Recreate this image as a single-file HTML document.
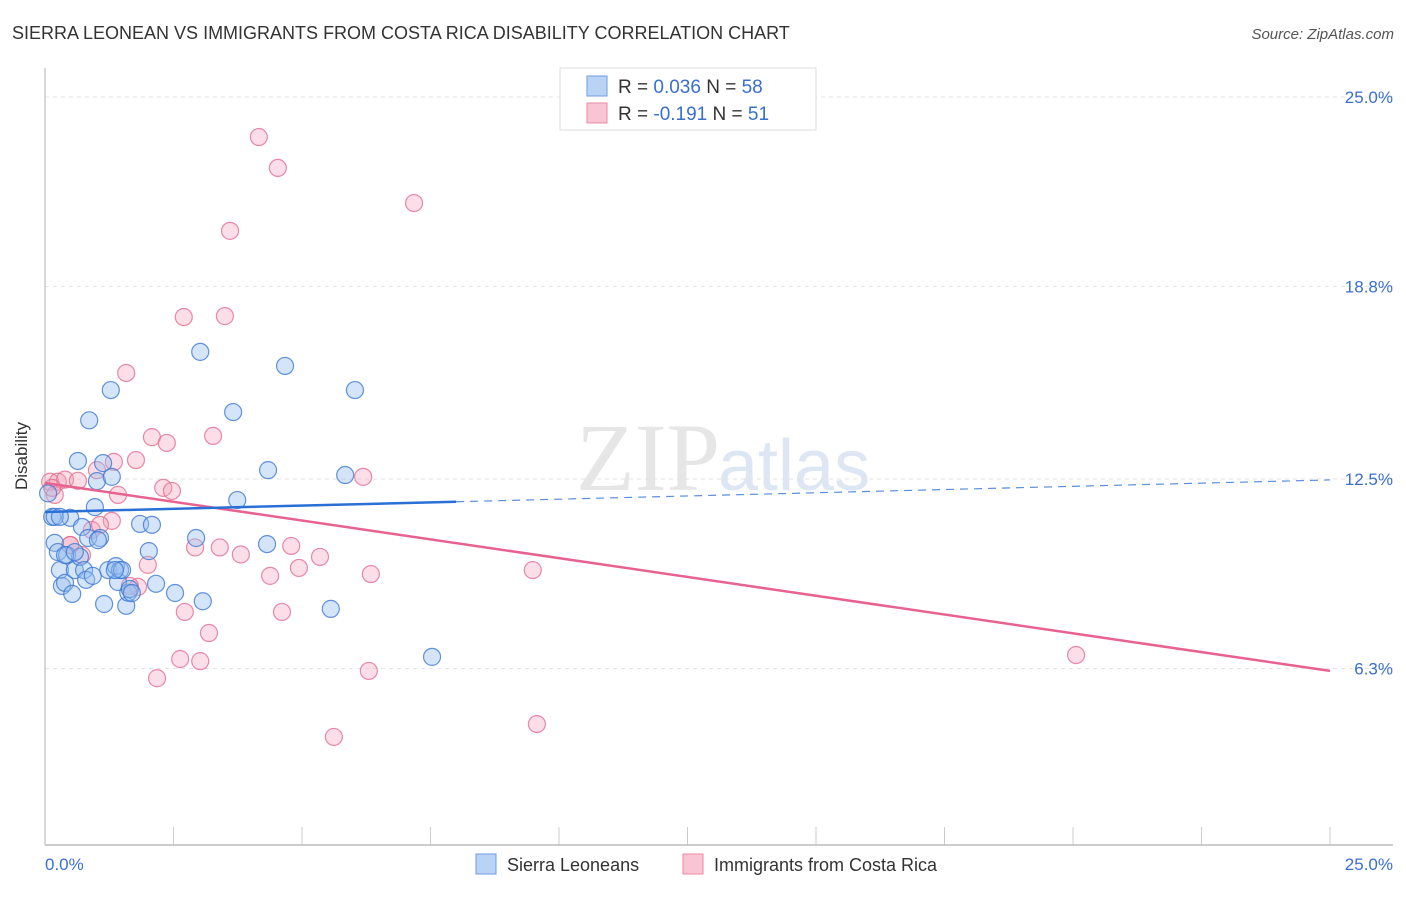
<!DOCTYPE html>
<html><head><meta charset="utf-8"><style>
body{margin:0;background:#fff;width:1406px;height:892px;overflow:hidden;font-family:"Liberation Sans",sans-serif}
</style></head><body>
<svg id="chart" width="1406" height="892" xmlns="http://www.w3.org/2000/svg">
<text x="12" y="39" font-size="18" fill="#333">SIERRA LEONEAN VS IMMIGRANTS FROM COSTA RICA DISABILITY CORRELATION CHART</text>
<text x="1394" y="39" font-size="15" fill="#555" font-style="italic" text-anchor="end">Source: ZipAtlas.com</text>
<text x="720" y="490" font-size="96" fill="#e6e6e6" text-anchor="end" font-family="Liberation Serif,serif">ZIP</text>
<text x="718" y="490" font-size="72" fill="#dde6f3">atlas</text>
<g id="grid"></g>
<line x1="45" y1="845" x2="1393" y2="845" stroke="#bbb" stroke-width="1.5"/>
<line x1="45" y1="68" x2="45" y2="845" stroke="#ccc" stroke-width="1.5"/>
<text x="27" y="456" font-size="17" fill="#333" text-anchor="middle" transform="rotate(-90 27 456)">Disability</text>
<text x="45" y="870" font-size="17" fill="#3a6fd0">0.0%</text>
<text x="1393" y="870" font-size="17" fill="#3a6fd0" text-anchor="end">25.0%</text>
<g id="points"></g>
<g id="trends"></g>
<g>
<rect x="560" y="68" width="256" height="62" fill="#fff" stroke="#ddd"/>
<rect x="587" y="76" width="20" height="20" fill="#b8d3f5" stroke="#6d9fe0"/>
<rect x="587" y="103" width="20" height="20" fill="#f9c5d4" stroke="#e88aa6"/>
<text x="618" y="93" font-size="19" fill="#333">R = <tspan fill="#3a6fd0">0.036</tspan>   N = <tspan fill="#3a6fd0">58</tspan></text>
<text x="618" y="120" font-size="19" fill="#333">R = <tspan fill="#3a6fd0">-0.191</tspan>   N =  <tspan fill="#3a6fd0">51</tspan></text>
</g>
<g>
<rect x="476" y="854" width="20" height="20" fill="#b8d3f5" stroke="#6d9fe0"/>
<text x="507" y="871" font-size="18" fill="#333">Sierra Leoneans</text>
<rect x="683" y="854" width="20" height="20" fill="#f9c5d4" stroke="#e88aa6"/>
<text x="714" y="871" font-size="18" fill="#333">Immigrants from Costa Rica</text>
</g>
</svg>
<script>
const yTicks=[6.3,12.5,18.8,25.0];
const blueX=[0.06,0.14,0.19,0.25,0.29,0.33,0.39,0.43,0.49,0.53,0.58,0.64,0.68,0.72,0.76,0.80,0.84,0.86,0.93,0.97,1.01,1.07,1.13,1.15,1.23,1.28,1.30,1.38,1.42,1.46,1.50,1.58,1.62,1.65,1.69,1.85,2.02,2.08,2.16,2.53,2.94,3.02,3.07,3.66,3.74,4.32,4.34,4.67,5.56,5.84,6.03,7.53,0.19,0.39,1.36,0.58,0.29,1.03];
const blueY=[12.03,11.26,10.41,10.11,9.52,9.00,9.10,10.01,11.23,8.74,9.52,13.09,9.95,10.93,9.52,9.20,10.57,14.42,9.33,11.58,12.43,10.57,13.02,8.41,9.52,15.41,12.57,9.65,9.13,9.52,9.52,8.35,8.78,8.90,8.77,11.03,10.14,11.00,9.07,8.77,10.57,16.66,8.5,14.69,11.81,10.37,12.79,16.20,8.25,12.63,15.41,6.68,11.26,10.01,9.52,10.11,11.26,10.50];
const pinkX=[4.16,4.53,7.18,3.60,2.70,3.50,1.58,2.08,2.37,3.27,1.77,1.34,1.01,6.19,0.10,0.25,0.39,0.64,0.19,1.42,2.30,2.47,1.30,0.91,0.49,1.07,2.92,3.40,3.81,4.79,5.35,4.94,4.38,6.34,9.49,1.81,2.00,2.72,4.61,3.19,2.63,3.02,2.18,6.30,5.62,9.57,20.06,0.14,0.49,1.65,0.72];
const pinkY=[23.69,22.68,21.53,20.62,17.80,17.83,15.97,13.87,13.68,13.91,13.12,13.06,12.79,12.57,12.41,12.41,12.48,12.44,11.98,11.98,12.21,12.11,11.13,10.83,10.34,11.00,10.26,10.26,10.03,10.31,9.95,9.59,9.33,9.39,9.52,8.97,9.69,8.15,8.15,7.46,6.61,6.54,5.98,6.22,4.06,4.48,6.74,12.21,10.34,9.00,10.01];
const blueTrend=[11.42,12.47];
const pinkTrend=[12.37,6.22];
const NS="http://www.w3.org/2000/svg";
const sx=v=>45+v*51.4;
const sy=v=>861-v*30.56;
const grid=document.getElementById('grid');
yTicks.forEach(t=>{
 const l=document.createElementNS(NS,'line');
 l.setAttribute('x1',45);l.setAttribute('x2',1393);l.setAttribute('y1',sy(t));l.setAttribute('y2',sy(t));
 l.setAttribute('stroke','#e3e3e3');l.setAttribute('stroke-dasharray','4,4');
 
 
 grid.appendChild(l);
 const tx=document.createElementNS(NS,'text');
 tx.setAttribute('x',1393);tx.setAttribute('y',sy(t)+6);tx.setAttribute('text-anchor','end');
 tx.setAttribute('font-size','17');tx.setAttribute('fill','#3a6fd0');tx.textContent=t.toFixed(1)+'%';
 
 
 grid.appendChild(tx);
});
for(let i=0;i<=10;i++){
 const l=document.createElementNS(NS,'line');
 const x=sx(i*2.5);
 l.setAttribute('x1',x);l.setAttribute('x2',x);l.setAttribute('y1',827);l.setAttribute('y2',845);
 l.setAttribute('stroke','#ccc');
 
 
 grid.appendChild(l);
}
const pts=document.getElementById('points');
function dots(X,Y,fill,stroke,name){
 X.forEach((v,i)=>{
  const c=document.createElementNS(NS,'circle');
  c.setAttribute('cx',sx(v));c.setAttribute('cy',sy(Y[i]));c.setAttribute('r',8.5);
  c.setAttribute('fill',fill);c.setAttribute('stroke',stroke);c.setAttribute('stroke-width','1.2');
  
  
  pts.appendChild(c);
 });
}
dots(pinkX,pinkY,'rgba(244,160,185,0.35)','rgba(226,110,145,0.8)','costa-rica-point');
dots(blueX,blueY,'rgba(150,190,240,0.4)','rgba(60,120,210,0.8)','sierra-leonean-point');
const tr=document.getElementById('trends');
function line(x1,y1,x2,y2,col,w,dash,name){
 const l=document.createElementNS(NS,'line');
 l.setAttribute('x1',sx(x1));l.setAttribute('y1',sy(y1));l.setAttribute('x2',sx(x2));l.setAttribute('y2',sy(y2));
 l.setAttribute('stroke',col);l.setAttribute('stroke-width',w);if(dash)l.setAttribute('stroke-dasharray',dash);
 
 
 tr.appendChild(l);
}
const bAt=x=>blueTrend[0]+(blueTrend[1]-blueTrend[0])*x/25;
line(0,pinkTrend[0],25,pinkTrend[1],'#e8628f',2.5,null,'costa-rica-trendline');
line(0,bAt(0),8,bAt(8),'#2a6fd6',2.5,null,'sierra-leonean-trendline');
line(8,bAt(8),25,bAt(25),'#5a8fdc',1.2,'8,6','sierra-leonean-trendline-extension');
</script>
</body></html>
